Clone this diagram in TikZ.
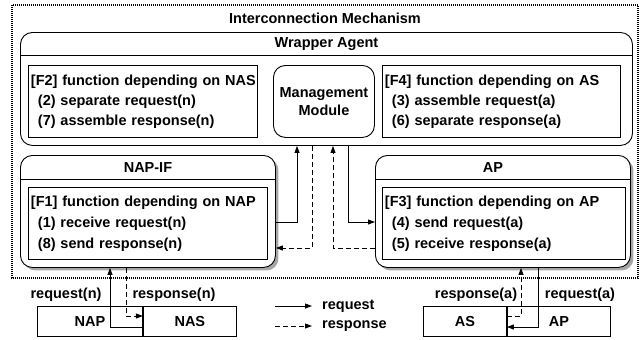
\documentclass[tikz,border=0pt]{standalone}
\usepackage{fontspec}
\setmainfont{Liberation Sans}
\usetikzlibrary{arrows.meta,shadows}
\tikzset{
	req/.style={draw, line width=0.9pt, -{Triangle[length=7pt,width=5pt]}},
	resp/.style={req, dash pattern=on 5pt off 3pt},
	fbox/.style={draw, line width=0.9pt, align=left, anchor=north west, inner xsep=1.5pt, inner ysep=0pt, minimum height=72},
	rbox/.style={draw, line width=0.9pt, rounded corners=12pt, anchor=north west, fill=white},
	shadowed/.style={drop shadow={shadow xshift=3pt, shadow yshift=-3pt, fill=gray!70, opacity=1}},
	plainbox/.style={draw, line width=0.9pt, minimum height=30, inner sep=0pt, anchor=north west},
	legendtext/.style={anchor=west, inner xsep=10pt}
}
\begin{document}
\begin{tikzpicture}[x=1pt, y=-1pt, font=\fontsize{14.5}{20}\selectfont\bfseries]
	\useasboundingbox (0,0) rectangle (640,340);
	%frame
	\draw[line width=1.3pt, dash pattern=on 1pt off 1pt] (12,5) rectangle (638,278);
	\node (imtitle) at (325,18) {Interconnection Mechanism};
	%wrapper agent
	\node[rbox, minimum width=612, minimum height=113] (wa) at (20,32) {};
	\node (watitle) at (wa.north |- 0,44) {Wrapper Agent};
	\draw[line width=0.9pt] (wa.west |- 0,55) -- (wa.east |- 0,55);
	\node[fbox, text width=226] (f2) at (28,65)
	{\hspace*{1pt}[F2] function depending on NAS\\
		\hspace*{8pt}(2) separate request(n)\\
		\hspace*{8pt}(7) assemble response(n)};
	\node[rbox, minimum width=101, minimum height=72, align=center,
	font=\fontsize{14.5}{18}\selectfont\bfseries] (mm) at (273,65) {Management\\Module};
	\node[fbox, text width=235] (f4) at (382,65)
	{\hspace*{1pt}[F4] function depending on AS\\
		\hspace*{8pt}(3) assemble request(a)\\
		\hspace*{8pt}(6) separate response(a)};
	%interfaces
	\node[rbox, shadowed, minimum width=255, minimum height=112] (napif) at (20,155) {};
	\node (napiftitle) at (napif.north |- 0,168) {NAP-IF};
	\draw[line width=0.9pt] (napif.west |- 0,179) -- (napif.east |- 0,179);
	\node[fbox, text width=236, font=\fontsize{14.5}{21}\selectfont\bfseries] (f1) at (28,187)
	{\hspace*{1pt}[F1] function depending on NAP\\
		\hspace*{8pt}(1) receive request(n)\\
		\hspace*{8pt}(8) send response(n)};
	\node[rbox, shadowed, minimum width=255, minimum height=112] (apif) at (375,155) {};
	\node (apiftitle) at (493,168) {AP};
	\draw[line width=0.9pt] (apif.west |- 0,179) -- (apif.east |- 0,179);
	\node[fbox, text width=240, font=\fontsize{14.5}{21}\selectfont\bfseries] (f3) at (382,187)
	{\hspace*{1pt}[F3] function depending on AP\\
		\hspace*{8pt}(4) send request(a)\\
		\hspace*{8pt}(5) receive response(a)};
	%inner connectors
	\draw[req] (napif.east |- 0,222) -| (wa.south -| 297,0);
	\draw[resp] (wa.south -| 312,0) |- (napif.east |- 0,248);
	\draw[resp] (apif.west |- 0,248) -| (wa.south -| 333,0);
	\draw[req] (wa.south -| 348,0) |- (apif.west |- 0,222);
	%outside systems
	\node[plainbox, minimum width=105] (nap) at (37,306) {NAP};
	\node[plainbox, minimum width=93] (nas) at (nap.north east) {NAS};
	\node[plainbox, minimum width=83] (as) at (423,306) {AS};
	\node[plainbox, minimum width=103] (ap) at (as.north east) {AP};
	\node (lreqn) at (66,295) {request(n)};
	\node (lrespn) at (174,295) {response(n)};
	\node (lrespa) at (476,295) {response(a)};
	\node (lreqa) at (580,295) {request(a)};
	\draw[req] (nas.west |- 0,327) -| (napif.south -| 110,0);
	\draw[resp] (napif.south -| 126,0) |- (nas.west |- 0,316);
	\draw[req] (apif.south -| 538,0) |- (as.east |- 0,327);
	\draw[resp] (as.east |- 0,316) -| (apif.south -| 521,0);
	%legend
	\coordinate (lgreqstart) at (275,306);
	\coordinate (lgrespstart) at (275,326);
	\node[legendtext] (lgreq) at (312,306) {request};
	\node[legendtext] (lgresp) at (312,326) {response};
	\draw[req] (lgreqstart) -- (lgreq.west);
	\draw[resp] (lgrespstart) -- (lgresp.west);
\end{tikzpicture}
\end{document}
